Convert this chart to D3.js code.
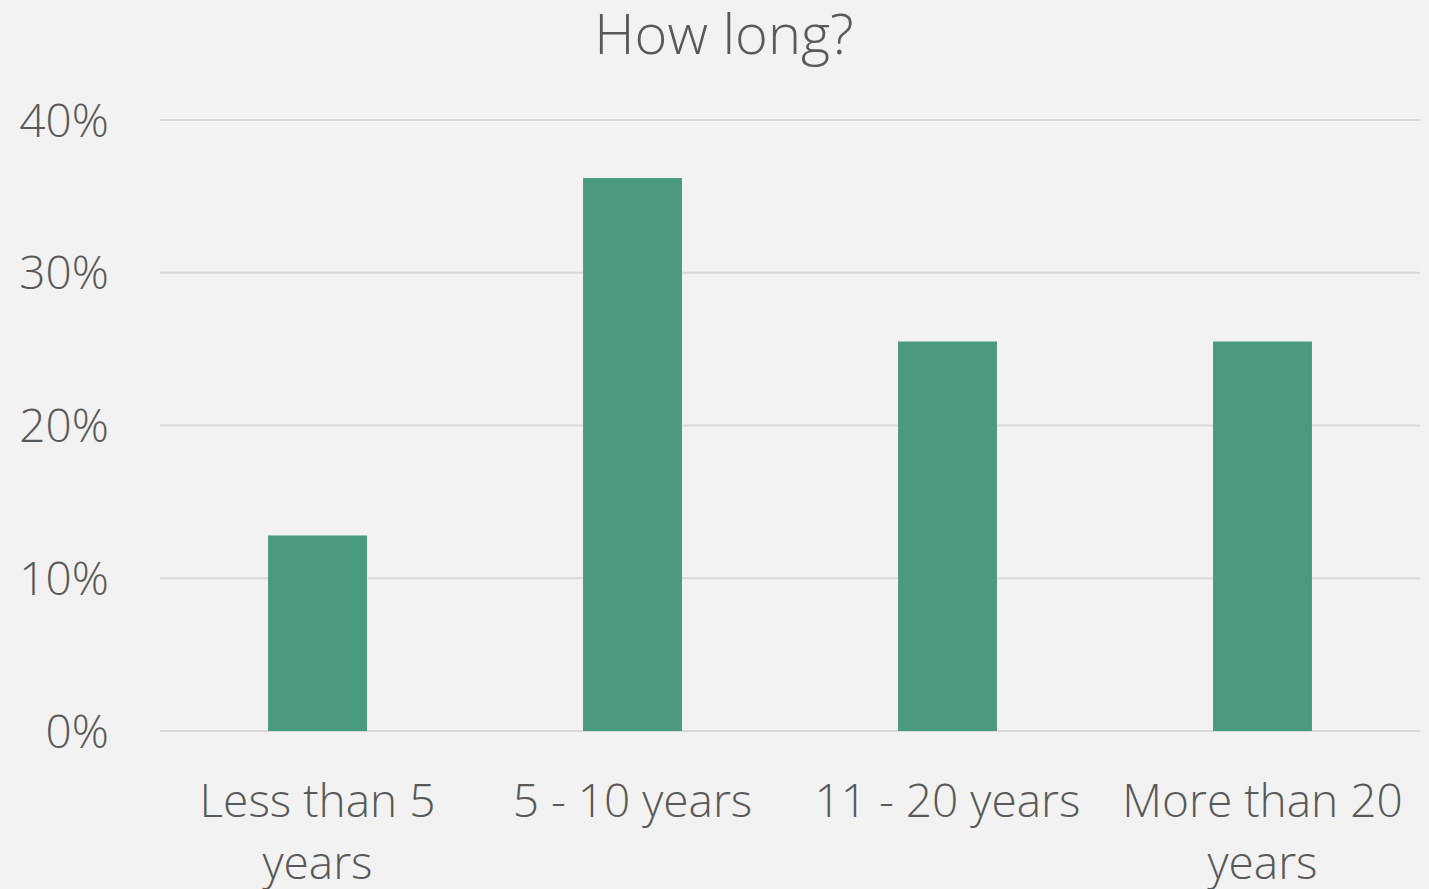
<!DOCTYPE html>
<html>
<head>
<meta charset="utf-8">
<script src="https://cdn.jsdelivr.net/npm/d3@7"></script>
<style>
  html, body { margin: 0; padding: 0; background: #F2F2F2; }
  svg { display: block; }
  text { font-family: "Open Sans", "Noto Sans", sans-serif; font-weight: 300; fill: #595959; }
</style>
</head>
<body>
<script>
const title = "How long?";
const categories = ["Less than 5 years", "5 - 10 years", "11 - 20 years", "More than 20 years"];
const values = [0.128, 0.362, 0.255, 0.255];
const yTicks = [0, 0.1, 0.2, 0.3, 0.4];

const W = 1429, H = 889;
const margin = { top: 120, right: 9, bottom: 158, left: 160 };
const labelSize = 46;

const svg = d3.select("body").append("svg").attr("width", W).attr("height", H);
svg.append("rect").attr("width", W).attr("height", H).attr("fill", "#F2F2F2");

const x = d3.scaleBand().domain(categories).range([margin.left, W - margin.right]).paddingInner(0.686).paddingOuter(0.343);
const xLab = d3.scaleBand().domain(categories).range([margin.left, W - margin.right]);
const y = d3.scaleLinear().domain([0, 0.4]).range([H - margin.bottom, margin.top]);

// gridlines
svg.append("g").selectAll("line").data(yTicks).join("line")
  .attr("x1", margin.left).attr("x2", W - margin.right)
  .attr("y1", d => y(d)).attr("y2", d => y(d))
  .attr("stroke", "#D9D9D9").attr("stroke-width", 2);

// y labels
svg.append("g").selectAll("text").data(yTicks).join("text")
  .attr("x", 109).attr("y", d => y(d)).attr("dy", "0.36em")
  .attr("text-anchor", "end").attr("font-size", labelSize)
  .text(d => d3.format(".0%")(d));

// bars
svg.append("g").selectAll("rect").data(values).join("rect")
  .attr("x", (d, i) => x(categories[i])).attr("width", x.bandwidth())
  .attr("y", d => y(d)).attr("height", d => y(0) - y(d))
  .attr("fill", "#4A9A80");

// x labels with wrapping
const lab = svg.append("g").attr("font-size", labelSize);
categories.forEach(c => {
  const cx = xLab(c) + xLab.bandwidth() / 2;
  const t = lab.append("text").attr("x", cx).attr("y", 817).attr("text-anchor", "middle");
  const words = c.split(" ");
  let lines = [], line = [];
  const probe = lab.append("text");
  words.forEach(w => {
    const test = line.concat([w]).join(" ");
    probe.text(test);
    if (probe.node().getComputedTextLength() > xLab.bandwidth() - 4 && line.length) {
      lines.push(line.join(" ")); line = [w];
    } else line.push(w);
  });
  lines.push(line.join(" "));
  probe.remove();
  lines.forEach((l, i) => t.append("tspan").attr("x", cx).attr("y", 817 + i * 62).text(l));
});

// title
svg.append("text").attr("x", 724).attr("y", 54).attr("text-anchor", "middle")
  .attr("font-size", 56).text(title);
</script>
</body>
</html>
